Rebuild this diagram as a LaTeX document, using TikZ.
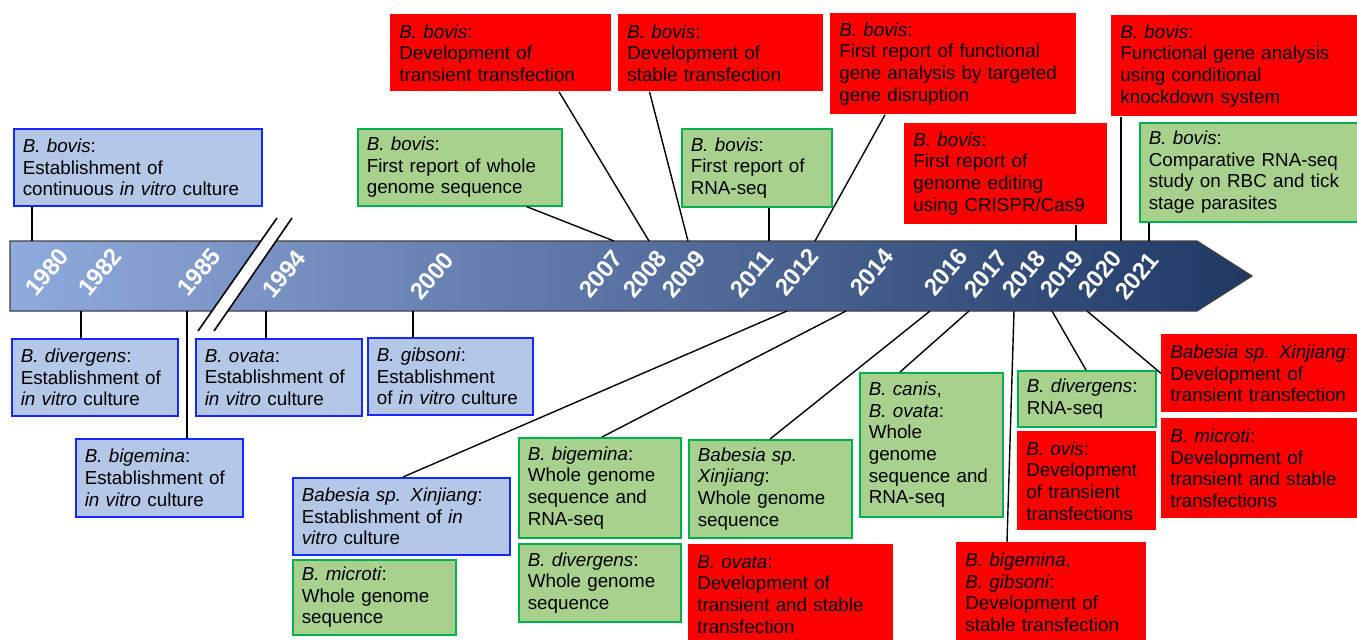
\documentclass[tikz,border=0pt]{standalone}
\usepackage{fontspec}
\setmainfont{Liberation Sans}
\usetikzlibrary{shapes,positioning}
\hyphenpenalty=10000
\exhyphenpenalty=10000

\definecolor{culturefill}{RGB}{180,199,231}
\definecolor{cultureline}{RGB}{20,40,255}
\definecolor{omicsfill}{RGB}{169,209,142}
\definecolor{omicsline}{RGB}{0,176,80}
\definecolor{geneticred}{RGB}{255,0,0}
\definecolor{arrowleft}{RGB}{143,170,220}
\definecolor{arrowright}{RGB}{31,56,100}

\begin{document}
\begin{tikzpicture}[x=0.5pt,y=-0.5pt,
    evt/.style={rectangle,anchor=north west,align=left,inner xsep=4.5pt,inner ysep=2pt,
      font=\fontsize{9.4}{10.8}\selectfont},
    culture/.style={evt,draw=cultureline,fill=culturefill,line width=0.8pt},
    omics/.style={evt,draw=omicsline,fill=omicsfill,line width=0.8pt},
    genetic/.style={evt,fill=geneticred},
    yr/.style={text=white,inner sep=0pt,font=\bfseries\fontsize{12}{12}\selectfont,rotate=50},
    tie/.style={draw=black,line width=0.7pt}] {
    \path[use as bounding box,fill=white] (0,0) rectangle (1357,639);

    % time arrow
    \shade[left color=arrowleft,right color=arrowright,draw=black!75,line width=0.6pt]
      (10,241) -- (1197,241) -- (1252,276) -- (1197,311) -- (10,311) -- cycle;
    \fill[white] (198,331) -- (277,218) -- (292,218) -- (214,331) -- cycle;
    \draw[line width=0.8pt] (198,331) -- (277,218) (214,331) -- (292,218);

    % years
    \node[yr] (y1980) at (47,272) {1980};
    \node[yr] (y1982) at (100,272) {1982};
    \node[yr] (y1985) at (199,272) {1985};
    \node[yr] (y1994) at (284,274) {1994};
    \node[yr] (y2000) at (432,276) {2000};
    \node[yr] (y2007) at (601,274) {2007};
    \node[yr] (y2008) at (645,274) {2008};
    \node[yr] (y2009) at (684,274) {2009};
    \node[yr] (y2011) at (752,274) {2011};
    \node[yr] (y2012) at (797,272) {2012};
    \node[yr] (y2014) at (872,272) {2014};
    \node[yr] (y2016) at (946,272) {2016};
    \node[yr] (y2017) at (986,274) {2017};
    \node[yr] (y2018) at (1024,274) {2018};
    \node[yr] (y2019) at (1062,274) {2019};
    \node[yr] (y2020) at (1100,274) {2020};
    \node[yr] (y2021) at (1137,276) {2021};

    % ticks on the arrow
    \coordinate (t1980) at (32,241);
    \coordinate (t2007) at (614,241);
    \coordinate (t2008) at (649,241);
    \coordinate (t2009) at (688,241);
    \coordinate (t2011) at (769,241);
    \coordinate (t2012) at (815,241);
    \coordinate (t2019) at (1076,241);
    \coordinate (t2020) at (1121,241);
    \coordinate (t2021) at (1149,241);
    \coordinate (b1982) at (81,311);
    \coordinate (b1985) at (187,311);
    \coordinate (b1994) at (266,311);
    \coordinate (b2000) at (413,311);
    \coordinate (b2012) at (787,311);
    \coordinate (b2014) at (846,311);
    \coordinate (b2016) at (930,311);
    \coordinate (b2017) at (969,311);
    \coordinate (b2018) at (1014,311);
    \coordinate (b2019) at (1052,311);
    \coordinate (b2020) at (1087,311);

    % events above
    \node[culture,text width=115pt,minimum height=38.5pt] (bovcult) at (13,128)
      {\textit{B. bovis}:\\Establishment of\\continuous \textit{in vitro} culture};
    \node[omics,text width=93pt,minimum height=38.5pt] (bovgenome) at (357,128)
      {\textit{B. bovis}:\\First report of whole\\genome sequence};
    \node[genetic,text width=101.5pt,minimum height=38.5pt] (bovtrans) at (390,14)
      {\textit{B. bovis}:\\Development of\\transient transfection};
    \node[genetic,text width=93.5pt,minimum height=38.5pt] (bovstable) at (618,14)
      {\textit{B. bovis}:\\Development of\\stable transfection};
    \node[omics,text width=66pt,minimum height=39pt] (bovrna) at (681,128)
      {\textit{B. bovis}:\\First report of\\RNA-seq};
    \node[genetic,text width=114pt,minimum height=50.5pt] (bovdisrupt) at (830,13)
      {\textit{B. bovis}:\\First report of functional\\gene analysis by targeted\\gene disruption};
    \node[genetic,text width=92.5pt,minimum height=50.5pt] (bovcrispr) at (904,123)
      {\textit{B. bovis}:\\First report of\\genome editing\\using CRISPR/Cas9};
    \node[genetic,text width=114pt,minimum height=50.5pt] (bovknock) at (1111,15)
      {\textit{B. bovis}:\\Functional gene analysis\\using conditional\\knockdown system};
    \node[omics,text width=100pt,minimum height=49.5pt] (bovtick) at (1139,122)
      {\textit{B. bovis}:\\Comparative RNA-seq\\study on RBC and tick\\stage parasites};

    % events below
    \node[culture,text width=74pt,minimum height=38.5pt] (divcult) at (11,338)
      {\textit{B. divergens}:\\Establishment of\\\textit{in vitro} culture};
    \node[culture,text width=74.5pt,minimum height=39pt] (bigcult) at (75,438)
      {\textit{B. bigemina}:\\Establishment of\\\textit{in vitro} culture};
    \node[culture,text width=74pt,minimum height=38.5pt] (ovacult) at (195,338)
      {\textit{B. ovata}:\\Establishment of\\\textit{in vitro} culture};
    \node[culture,text width=73.5pt,minimum height=38.5pt] (gibcult) at (367,337)
      {\textit{B. gibsoni}:\\Establishment\\of \textit{in vitro} culture};
    \node[culture,text width=99.5pt,minimum height=38.5pt] (xjcult) at (292,477)
      {\textit{Babesia sp. Xinjiang}:\\Establishment of \textit{in}\\\textit{vitro} culture};
    \node[omics,text width=72.5pt,minimum height=37.5pt] (micgenome) at (292,559)
      {\textit{B. microti}:\\Whole genome\\sequence};
    \node[omics,text width=72pt,minimum height=50pt] (biggenome) at (518,437)
      {\textit{B. bigemina}:\\Whole genome\\sequence and\\RNA-seq};
    \node[omics,text width=72pt,minimum height=39pt] (divgenome) at (518,543)
      {\textit{B. divergens}:\\Whole genome\\sequence};
    \node[omics,text width=72.5pt,minimum height=49pt] (xjgenome) at (688,439)
      {\textit{Babesia sp.}\\\textit{Xinjiang}:\\Whole genome\\sequence};
    \node[genetic,text width=93.5pt,minimum height=50pt] (ovatrans) at (688,544)
      {\textit{B. ovata}:\\Development of\\transient and stable\\transfection};
    \node[omics,text width=62.5pt,minimum height=72pt] (canovgenome) at (859,372)
      {\textit{B. canis},\\\textit{B. ovata}:\\Whole\\genome\\sequence and\\RNA-seq};
    \node[genetic,text width=86pt,minimum height=50pt] (biggibstable) at (956,542)
      {\textit{B. bigemina},\\\textit{B. gibsoni}:\\Development of\\stable transfection};
    \node[omics,text width=60pt,minimum height=28pt] (divrna) at (1017,370)
      {\textit{B. divergens}:\\RNA-seq};
    \node[genetic,text width=60.5pt,minimum height=49.5pt] (ovistrans) at (1017,431)
      {\textit{B. ovis}:\\Development\\of transient\\transfections};
    \node[genetic,text width=89pt,minimum height=39pt] (xjtrans) at (1161,334)
      {\mbox{\textit{Babesia sp. Xinjiang}:}\\Development of\\transient transfection};
    \node[genetic,text width=89pt,minimum height=50pt] (mictrans) at (1161,418)
      {\textit{B. microti}:\\Development of\\transient and stable\\transfections};

    % ties
    \draw[tie] (bovcult.south -| t1980) -- (t1980);
    \draw[tie] ([xshift=-18pt]bovgenome.south east) -- (t2007);
    \draw[tie] ([xshift=84.5pt]bovtrans.south west) -- (t2008);
    \draw[tie] ([xshift=15.75pt]bovstable.south west) -- (t2009);
    \draw[tie] (bovrna.south -| t2011) -- (t2011);
    \draw[tie] ([xshift=27.5pt]bovdisrupt.south west) -- (t2012);
    \draw[tie] (bovcrispr.south -| t2019) -- (t2019);
    \draw[tie] (bovknock.south -| t2020) -- (t2020);
    \draw[tie] (bovtick.south -| t2021) -- (t2021);
    \draw[tie] (b1982) -- (divcult.north -| b1982);
    \draw[tie] (b1985) -- (bigcult.north -| b1985);
    \draw[tie] (b1994) -- (ovacult.north -| b1994);
    \draw[tie] (b2000) -- (gibcult.north -| b2000);
    \draw[tie] (b2012) -- ([xshift=55.5pt]xjcult.north west);
    \draw[tie] (b2014) -- ([xshift=42pt]biggenome.north west);
    \draw[tie] (b2016) -- ([xshift=41pt]xjgenome.north west);
    \draw[tie] (b2017) -- ([xshift=20.5pt]canovgenome.north west);
    \draw[tie] (b2018) -- ([xshift=25.5pt]biggibstable.north west);
    \draw[tie] (b2019) -- ([xshift=34.5pt]divrna.north west);
    \draw[tie] (b2020) -- (xjtrans.west);
 }
\end{tikzpicture}
\end{document}
